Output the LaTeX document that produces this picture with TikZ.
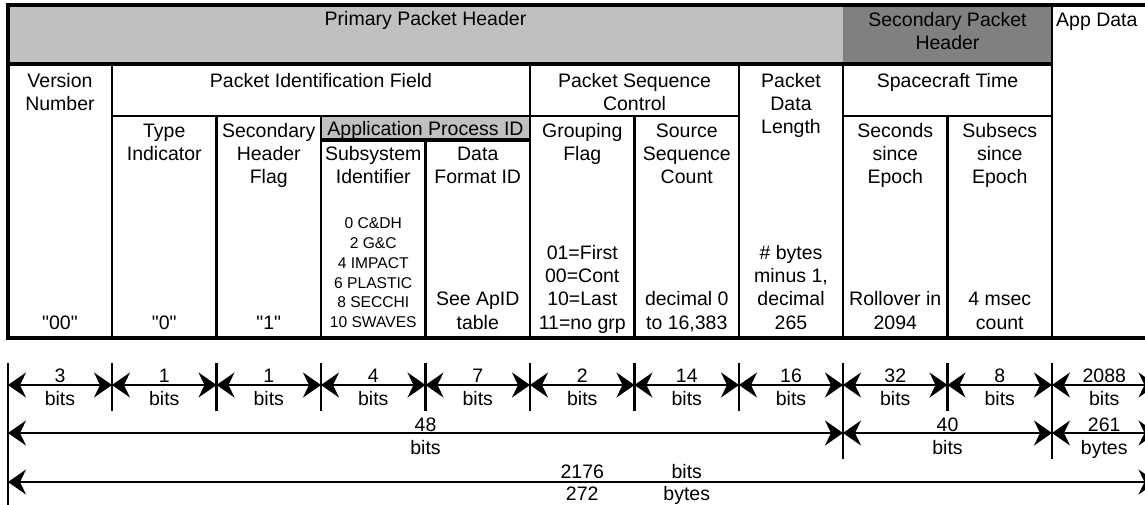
\documentclass[tikz,border=0pt]{standalone}
\usepackage{fontspec}
\setmainfont{Liberation Sans}[Ligatures=TeXOff]
\usetikzlibrary{arrows.meta}
\definecolor{lgray}{HTML}{C0C0C0}
\definecolor{dgray}{HTML}{808080}
\begin{document}
\begin{tikzpicture}[x=1pt,y=-1pt,
  big/.style={font=\fontsize{19.5}{23.3}\selectfont, inner sep=0pt, align=center, anchor=base},
  small/.style={font=\fontsize{15.6}{19.8}\selectfont, inner sep=0pt, align=center, anchor=base},
  thinl/.style={line width=2.6pt},
  thickl/.style={line width=3.6pt},
  outerl/.style={line width=4.2pt},
  tickl/.style={line width=2.4pt},
  dim/.style={line width=1.8pt, {Stealth[length=18pt,width=25pt,inset=6pt]}-{Stealth[length=18pt,width=25pt,inset=6pt]}},
]
\useasboundingbox (0,0) rectangle (1145,504);
% fills
\fill[lgray] (8,5) rectangle (843,64);
\fill[dgray] (843,5) rectangle (1052,64);
\fill[lgray] (321,116) rectangle (530,140);
% table lines
\draw[outerl] (1170,5) -- (8,5) -- (8,338) -- (1170,338);
\draw[thickl] (8,64) -- (1052,64);
\draw[thickl] (321,140) -- (530,140);
\draw[thinl] (1052,5) -- (1052,338);
\foreach \x in {112,530,739,843} \draw[thinl] (\x,64) -- (\x,338);
\draw[thinl] (112,116) -- (739,116);
\draw[thinl] (843,116) -- (1052,116);
\foreach \x in {216.5,321,634.5,947.5} \draw[thinl] (\x,116) -- (\x,338);
\draw[thinl] (425.5,140) -- (425.5,338);
% header texts (anchor base = baseline of last line)
\node[big] (pph) at (425.5,25) {Primary Packet Header};
\node[big] (sph) at (947.5,49.3) {Secondary Packet\\Header};
\node[big,anchor=base west] (app) at (1056,26) {App Data};
% row 2
\node[big] (ver) at (60,110.3) {Version\\Number};
\node[big] (pif) at (321,87) {Packet Identification Field};
\node[big] (psc) at (634.5,110.3) {Packet Sequence\\Control};
\node[big] (pdl) at (791,133.6) {Packet\\Data\\Length};
\node[big] (sct) at (947.5,87) {Spacecraft Time};
% row 3
\node[big] (ti) at (164.25,160.3) {Type\\Indicator};
\node[big] (shf) at (268.75,183.6) {Secondary\\Header\\Flag};
\node[big] (apid) at (425.5,135) {Application Process ID};
\node[big] (ssi) at (373.25,183.3) {Subsystem\\Identifier};
\node[big] (dfi) at (477.75,183.3) {Data\\Format ID};
\node[big] (gf) at (582.25,160.3) {Grouping\\Flag};
\node[big] (ssc) at (686.75,183.6) {Source\\Sequence\\Count};
\node[big] (sse) at (895.25,183.6) {Seconds\\since\\Epoch};
\node[big] (sub) at (999.75,183.6) {Subsecs\\since\\Epoch};
% bottom values
\node[big] (v00) at (60,329) {"00"};
\node[big] (v0) at (164.25,329) {"0"};
\node[big] (v1) at (268.75,329) {"1"};
\node[small] (subs) at (373.25,327.6) {0 C\&DH\\2 G\&C\\4 IMPACT\\6 PLASTIC\\8 SECCHI\\10 SWAVES};
\node[big] (seeap) at (477.75,329) {See ApID\\table};
\node[big] (gfv) at (582.25,329) {01=First\\00=Cont\\10=Last\\11=no grp};
\node[big] (sscv) at (686.75,329) {decimal 0\\to 16,383};
\node[big] (pdlv) at (791,329) {\# bytes\\minus 1,\\decimal\\265};
\node[big] (rol) at (895.25,329) {Rollover in\\2094};
\node[big] (msec) at (999.75,329) {4 msec\\count};
% ticks
\foreach \x [count=\i from 0] in {8,112,216.5,321,425.5,530,634.5,739,843,947.5,1052,1156.5} {
  \coordinate (t\i) at (\x,363);
  \coordinate (b\i) at (\x,411);
  \coordinate (d\i) at (\x,459);
  \coordinate (q\i) at (\x,433);
  \coordinate (w\i) at (\x,482);
}
\coordinate (bottomleft) at (8,510);
\foreach \i in {1,2,3,4,5,6,7,9} \draw[tickl] (t\i) -- (b\i);
\draw[tickl] (t8) -- (d8);
\draw[tickl] (t10) -- (d10);
\draw[tickl] (t0) -- (bottomleft);
% row 1 arrows
\foreach \a/\b/\n [count=\i] in {8/112/3, 112/216.5/1, 216.5/321/1, 321/425.5/4, 425.5/530/7, 530/634.5/2, 634.5/739/14, 739/843/16, 843/947.5/32, 947.5/1052/8, 1052/1156.5/2088} {
  \coordinate (pa\i) at (\a,385);
  \coordinate (pb\i) at (\b,385);
  \draw[dim] (pa\i) -- (pb\i);
  \node[big] (num\i) at ({(\a+\b)/2},382) {\n};
  \node[big] (bits\i) at ({(\a+\b)/2},405) {bits};
}
% row 2 arrows
\draw[dim] (q0) -- (q8);
\draw[dim] (q8) -- (q10);
\draw[dim] (q10) -- (q11);
\node[big] (n48) at (425.5,431) {48};
\node[big] (u48) at (425.5,454) {bits};
\node[big] (n40) at (947.5,431) {40};
\node[big] (u40) at (947.5,454) {bits};
\node[big] (n261) at (1104.25,431) {261};
\node[big] (u261) at (1104.25,454) {bytes};
% row 3 arrow
\draw[dim] (w0) -- (w11);
\node[big] (n2176) at (582.25,478) {2176};
\node[big] (u2176) at (686.75,478) {bits};
\node[big] (n272) at (582.25,500) {272};
\node[big] (u272) at (686.75,500) {bytes};
\end{tikzpicture}
\end{document}
